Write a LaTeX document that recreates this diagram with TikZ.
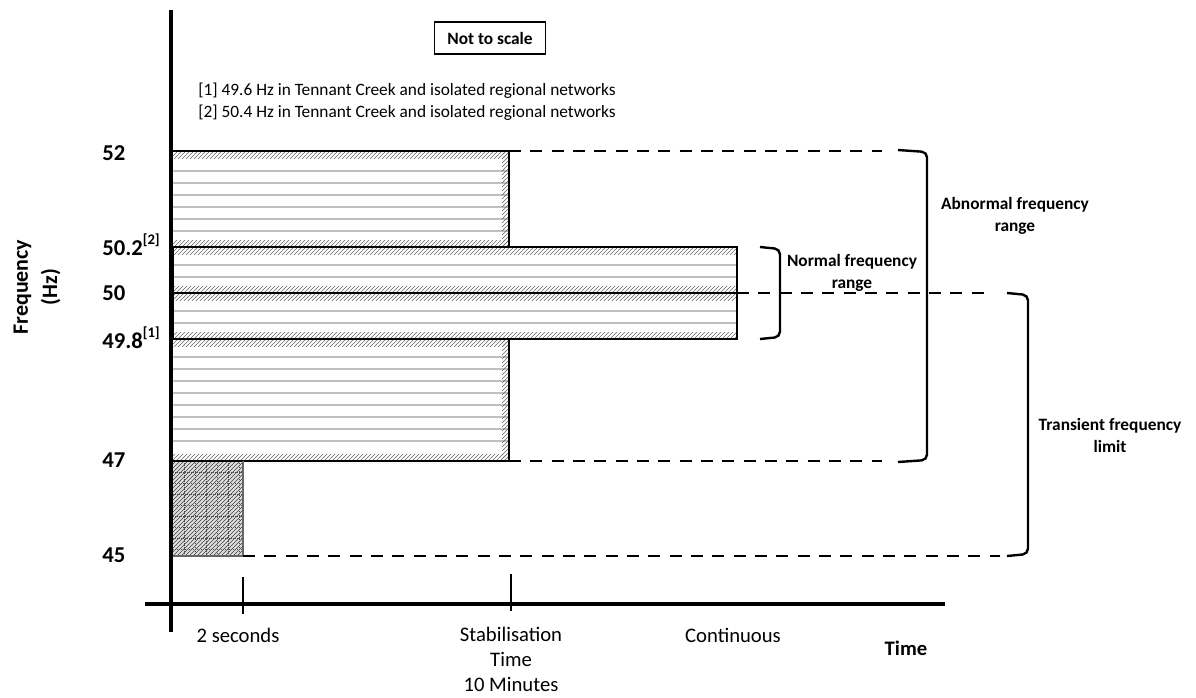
\documentclass[tikz,border=0pt]{standalone}
\usepackage{fontspec}
\setmainfont{Carlito}
\usetikzlibrary{patterns,positioning}

\tikzset{
  axisline/.style={line width=3pt},
  tickline/.style={line width=1.2pt},
  guide/.style={line width=2pt, dash pattern=on 9pt off 7pt},
  bracket/.style={line width=1.8pt, rounded corners=4pt},
  hatch/.style={pattern=north east lines, pattern color=gray!80!black},
  rule/.style={draw=gray!50, line width=1.3pt},
  edge/.style={line width=0.8pt},
  lvl/.style={anchor=base west, inner sep=0pt, font=\fontsize{17}{18}\selectfont\bfseries},
  note/.style={anchor=west, inner sep=0pt, font=\fontsize{13}{15}\selectfont},
  tag/.style={align=center, font=\fontsize{13}{16.5}\selectfont\bfseries},
  when/.style={align=center, font=\fontsize{15.5}{18.75}\selectfont},
}

% band with grey rules and hatched top/bottom strips
\newcommand{\band}[5]{%
  \foreach \y in {#5} \draw[rule] (#1,\y) -- (#3,\y);
  \fill[hatch] (#1,#2) rectangle (#3,#2+7);
  \fill[hatch] (#1,#4-7) rectangle (#3,#4);
}
\newcommand{\fnmark}[1]{\raisebox{0.45em}{\fontsize{11}{12}\selectfont[#1]}}

\begin{document}
\begin{tikzpicture}[x=0.75pt,y=-0.75pt]
  \useasboundingbox (0,0) rectangle (1196,697);

  % frequency bands
  \band{173}{151}{509}{247}{171,183,...,231}
  \fill[hatch] (502,151) rectangle (509,247);
  \band{173}{247}{737}{293}{265,277}
  \band{173}{293}{737}{339}{311,323}
  \band{173}{339}{509}{461}{357,369,...,447}
  \fill[hatch] (502,339) rectangle (509,461);
  \fill[gray!25] (173,461) rectangle (243,556);
  \fill[pattern=north east lines, pattern color=black!75] (173,461) rectangle (243,556);
  \foreach \y in {472,483,...,550} \draw[densely dotted, draw=black!70, line width=0.5pt] (173,\y) -- (243,\y);
  \foreach \x in {184,195,...,240} \draw[densely dotted, draw=black!70, line width=0.5pt] (\x,461) -- (\x,556);
  \draw[edge] (173,151) -- (509,151) -- (509,247);
  \draw[edge] (173,247) rectangle (737,339);
  \draw[line width=1.5pt] (173,293) -- (737,293);
  \draw[edge] (509,339) -- (509,461) -- (173,461);
  \draw[edge, draw=black!60] (173,556) -- (243,556) -- (243,461);

  % guide lines and brackets
  \draw[guide] (509,151) -- (882,151);
  \draw[guide] (509,461) -- (882,461);
  \draw[guide] (737,293) -- (988,293);
  \draw[guide] (243,556) -- (1000,556);
  \draw[bracket] (898,150) -- (927,152) -- (927,460) -- (898,462);
  \draw[bracket] (760,247) -- (780,249) -- (780,337) -- (760,339);
  \draw[bracket] (1007,293) -- (1028,295) -- (1028,554) -- (1007,556);

  % axes
  \draw[axisline] (171,10) -- (171,632);
  \draw[axisline] (145,604) -- (945,604);
  \draw[tickline] (243,577) -- (243,614);
  \draw[tickline] (511,574) -- (511,611);

  % labels
  \node[draw, line width=0.8pt, minimum width=83pt, minimum height=24pt,
        font=\fontsize{13}{15}\selectfont\bfseries] (noscale) at (490,38) {Not to scale};
  \node[note] (note1) at (198,91) {[1] 49.6 Hz in Tennant Creek and isolated regional networks};
  \node[note] (note2) at (198,113) {[2] 50.4 Hz in Tennant Creek and isolated regional networks};

  \node[lvl] (f52) at (102,160) {52};
  \node[lvl] (f502) at (102,255) {50.2\fnmark{2}};
  \node[lvl] (f50) at (102,300) {50};
  \node[lvl] (f498) at (102,348) {49.8\fnmark{1}};
  \node[lvl] (f47) at (102,467) {47};
  \node[lvl] (f45) at (102,562) {45};
  \node[rotate=90, align=center, font=\fontsize{16.5}{22}\selectfont\bfseries] (freq) at (37,287) {Frequency\\(Hz)};

  \node[tag] (abnormal) at (1015,216) {Abnormal frequency\\range};
  \node[tag] (normal) at (852,273) {Normal frequency\\range};
  \node[tag] (transient) at (1110,435) {Transient frequency\\limit};

  \node[when] (secs) at (238,635) {2 seconds};
  \node[when, anchor=north] (stab) at (511,622) {Stabilisation\\Time\\10 Minutes};
  \node[when] (cont) at (733,635) {Continuous};
  \node[when, font=\fontsize{15.5}{18.75}\selectfont\bfseries] (time) at (906,648) {Time};
\end{tikzpicture}
\end{document}
